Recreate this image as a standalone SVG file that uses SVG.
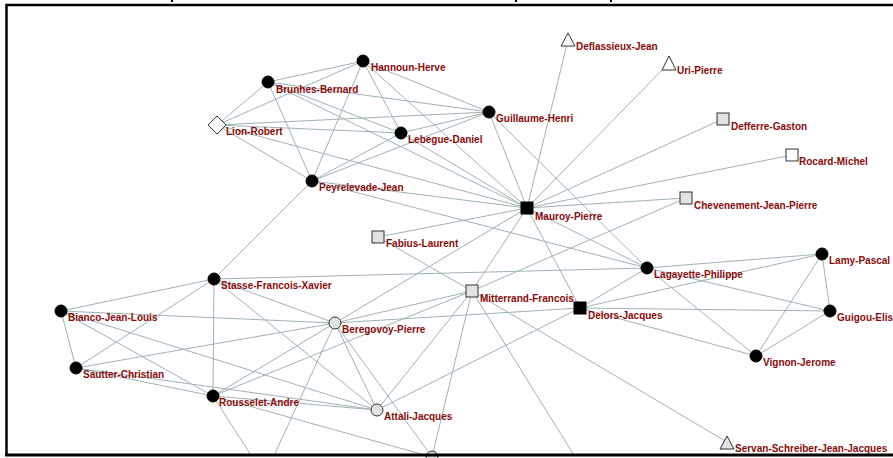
<svg xmlns="http://www.w3.org/2000/svg" width="893" height="458" viewBox="0 0 893 458">
<style>
.e{stroke:#9fb2b2;stroke-width:1;fill:none}
.lb{font-family:"Liberation Sans",Arial,sans-serif;font-size:10px;font-weight:bold;fill:#8b0a0a}
.blk{fill:#000;stroke:#000}
.gry{fill:#e2e2e2;stroke:#333;stroke-width:1}
.wht{fill:#fff;stroke:#333;stroke-width:1}
</style>
<defs>
<clipPath id="plot"><rect x="7" y="6" width="886" height="448"/></clipPath>
</defs>
<rect width="893" height="458" fill="#fff"/>
<g id="connectors" clip-path="url(#plot)">
<line class="e" x1="363" y1="61" x2="268" y2="82"/>
<line class="e" x1="363" y1="61" x2="217" y2="125"/>
<line class="e" x1="363" y1="61" x2="401" y2="133"/>
<line class="e" x1="363" y1="61" x2="312" y2="181"/>
<line class="e" x1="363" y1="61" x2="489" y2="112"/>
<line class="e" x1="363" y1="61" x2="527" y2="208"/>
<line class="e" x1="268" y1="82" x2="217" y2="125"/>
<line class="e" x1="268" y1="82" x2="312" y2="181"/>
<line class="e" x1="268" y1="82" x2="489" y2="112"/>
<line class="e" x1="268" y1="82" x2="401" y2="133"/>
<line class="e" x1="268" y1="82" x2="527" y2="208"/>
<line class="e" x1="217" y1="125" x2="489" y2="112"/>
<line class="e" x1="217" y1="125" x2="401" y2="133"/>
<line class="e" x1="217" y1="125" x2="312" y2="181"/>
<line class="e" x1="217" y1="125" x2="527" y2="208"/>
<line class="e" x1="401" y1="133" x2="489" y2="112"/>
<line class="e" x1="401" y1="133" x2="312" y2="181"/>
<line class="e" x1="401" y1="133" x2="527" y2="208"/>
<line class="e" x1="489" y1="112" x2="312" y2="181"/>
<line class="e" x1="489" y1="112" x2="527" y2="208"/>
<line class="e" x1="489" y1="112" x2="647" y2="268"/>
<line class="e" x1="312" y1="181" x2="527" y2="208"/>
<line class="e" x1="312" y1="181" x2="214" y2="279"/>
<line class="e" x1="312" y1="181" x2="647" y2="268"/>
<line class="e" x1="568" y1="40" x2="527" y2="208"/>
<line class="e" x1="669" y1="63" x2="527" y2="208"/>
<line class="e" x1="723" y1="119" x2="527" y2="208"/>
<line class="e" x1="792" y1="155" x2="527" y2="208"/>
<line class="e" x1="686" y1="198" x2="527" y2="208"/>
<line class="e" x1="686" y1="198" x2="472" y2="291"/>
<line class="e" x1="527" y1="208" x2="378" y2="237"/>
<line class="e" x1="527" y1="208" x2="472" y2="291"/>
<line class="e" x1="527" y1="208" x2="580" y2="308"/>
<line class="e" x1="527" y1="208" x2="647" y2="268"/>
<line class="e" x1="527" y1="208" x2="335" y2="323"/>
<line class="e" x1="378" y1="237" x2="472" y2="291"/>
<line class="e" x1="472" y1="291" x2="335" y2="323"/>
<line class="e" x1="472" y1="291" x2="213" y2="396"/>
<line class="e" x1="472" y1="291" x2="377" y2="410"/>
<line class="e" x1="472" y1="291" x2="432" y2="457"/>
<line class="e" x1="472" y1="291" x2="727" y2="442"/>
<line class="e" x1="472" y1="291" x2="577" y2="460"/>
<line class="e" x1="580" y1="308" x2="335" y2="323"/>
<line class="e" x1="580" y1="308" x2="377" y2="410"/>
<line class="e" x1="580" y1="308" x2="647" y2="268"/>
<line class="e" x1="580" y1="308" x2="822" y2="254"/>
<line class="e" x1="580" y1="308" x2="830" y2="311"/>
<line class="e" x1="580" y1="308" x2="756" y2="356"/>
<line class="e" x1="647" y1="268" x2="822" y2="254"/>
<line class="e" x1="647" y1="268" x2="830" y2="311"/>
<line class="e" x1="647" y1="268" x2="756" y2="356"/>
<line class="e" x1="647" y1="268" x2="214" y2="279"/>
<line class="e" x1="822" y1="254" x2="830" y2="311"/>
<line class="e" x1="822" y1="254" x2="756" y2="356"/>
<line class="e" x1="830" y1="311" x2="756" y2="356"/>
<line class="e" x1="214" y1="279" x2="61" y2="311"/>
<line class="e" x1="214" y1="279" x2="76" y2="368"/>
<line class="e" x1="214" y1="279" x2="213" y2="396"/>
<line class="e" x1="214" y1="279" x2="335" y2="323"/>
<line class="e" x1="214" y1="279" x2="377" y2="410"/>
<line class="e" x1="61" y1="311" x2="76" y2="368"/>
<line class="e" x1="61" y1="311" x2="335" y2="323"/>
<line class="e" x1="61" y1="311" x2="213" y2="396"/>
<line class="e" x1="61" y1="311" x2="377" y2="410"/>
<line class="e" x1="76" y1="368" x2="213" y2="396"/>
<line class="e" x1="76" y1="368" x2="377" y2="410"/>
<line class="e" x1="76" y1="368" x2="335" y2="323"/>
<line class="e" x1="213" y1="396" x2="335" y2="323"/>
<line class="e" x1="213" y1="396" x2="377" y2="410"/>
<line class="e" x1="213" y1="396" x2="432" y2="457"/>
<line class="e" x1="213" y1="396" x2="254" y2="460"/>
<line class="e" x1="335" y1="323" x2="377" y2="410"/>
<line class="e" x1="335" y1="323" x2="432" y2="457"/>
<line class="e" x1="335" y1="323" x2="272" y2="460"/>
</g>
<g id="n-hannoun"><circle class="blk" cx="363" cy="61" r="6"/><text class="lb" x="371" y="71">Hannoun-Herve</text></g>
<g id="n-brunhes"><circle class="blk" cx="268" cy="82" r="6"/><text class="lb" x="276" y="93">Brunhes-Bernard</text></g>
<g id="n-lion"><polygon class="wht" points="217,116 226,125 217,134 208,125"/><text class="lb" x="226" y="135">Lion-Robert</text></g>
<g id="n-lebegue"><circle class="blk" cx="401" cy="133" r="6"/><text class="lb" x="408" y="143">Lebegue-Daniel</text></g>
<g id="n-guillaume"><circle class="blk" cx="489" cy="112" r="6"/><text class="lb" x="496" y="122">Guillaume-Henri</text></g>
<g id="n-peyrelevade"><circle class="blk" cx="312" cy="181" r="6"/><text class="lb" x="319" y="191">Peyrelevade-Jean</text></g>
<g id="n-deflassieux"><polygon class="wht" points="568,33 575,46 561,46"/><text class="lb" x="576" y="50">Deflassieux-Jean</text></g>
<g id="n-uri"><polygon class="wht" points="669,56 676,70 662,70"/><text class="lb" x="677" y="74">Uri-Pierre</text></g>
<g id="n-defferre"><rect class="gry" x="717" y="113" width="12" height="12"/><text class="lb" x="731" y="130">Defferre-Gaston</text></g>
<g id="n-rocard"><rect class="wht" x="786" y="149" width="12" height="12"/><text class="lb" x="799" y="165">Rocard-Michel</text></g>
<g id="n-chevenement"><rect class="gry" x="680" y="192" width="12" height="12"/><text class="lb" x="694" y="209">Chevenement-Jean-Pierre</text></g>
<g id="n-mauroy"><rect class="blk" x="521" y="202" width="12" height="12"/><text class="lb" x="535" y="220">Mauroy-Pierre</text></g>
<g id="n-fabius"><rect class="gry" x="372" y="231" width="12" height="12"/><text class="lb" x="386" y="247">Fabius-Laurent</text></g>
<g id="n-mitterrand"><rect class="gry" x="466" y="285" width="12" height="12"/><text class="lb" x="480" y="302">Mitterrand-Francois</text></g>
<g id="n-delors"><rect class="blk" x="574" y="302" width="12" height="12"/><text class="lb" x="588" y="319">Delors-Jacques</text></g>
<g id="n-lagayette"><circle class="blk" cx="647" cy="268" r="6"/><text class="lb" x="654" y="278">Lagayette-Philippe</text></g>
<g id="n-lamy"><circle class="blk" cx="822" cy="254" r="6"/><text class="lb" x="829" y="264">Lamy-Pascal</text></g>
<g id="n-guigou"><circle class="blk" cx="830" cy="311" r="6"/><text class="lb" x="837" y="321">Guigou-Elis</text></g>
<g id="n-vignon"><circle class="blk" cx="756" cy="356" r="6"/><text class="lb" x="763" y="366">Vignon-Jerome</text></g>
<g id="n-servan"><polygon class="gry" points="727,436 734,449 720,449"/><text class="lb" x="735" y="452">Servan-Schreiber-Jean-Jacques</text></g>
<g id="n-stasse"><circle class="blk" cx="214" cy="279" r="6"/><text class="lb" x="221" y="289">Stasse-Francois-Xavier</text></g>
<g id="n-bianco"><circle class="blk" cx="61" cy="311" r="6"/><text class="lb" x="68" y="321">Bianco-Jean-Louis</text></g>
<g id="n-beregovoy"><circle class="gry" cx="335" cy="323" r="6"/><text class="lb" x="342" y="333">Beregovoy-Pierre</text></g>
<g id="n-sautter"><circle class="blk" cx="76" cy="368" r="6"/><text class="lb" x="83" y="378">Sautter-Christian</text></g>
<g id="n-rousselet"><circle class="blk" cx="213" cy="396" r="6"/><text class="lb" x="219" y="406">Rousselet-Andre</text></g>
<g id="n-attali"><circle class="gry" cx="377" cy="410" r="6"/><text class="lb" x="384" y="420">Attali-Jacques</text></g>
<g id="n-bottom"><circle class="gry" cx="432" cy="457" r="6"/></g>
<g id="frame">
<path d="M6.5,455 V5 H893" fill="none" stroke="#000" stroke-width="2.5"/>
<rect x="5" y="453.5" width="888" height="3" fill="#000"/>
<rect x="171" y="0" width="2" height="2" fill="#000"/>
<rect x="515" y="0" width="2" height="2" fill="#000"/>
<rect x="610" y="0" width="2" height="2" fill="#000"/>
</g>
</svg>
